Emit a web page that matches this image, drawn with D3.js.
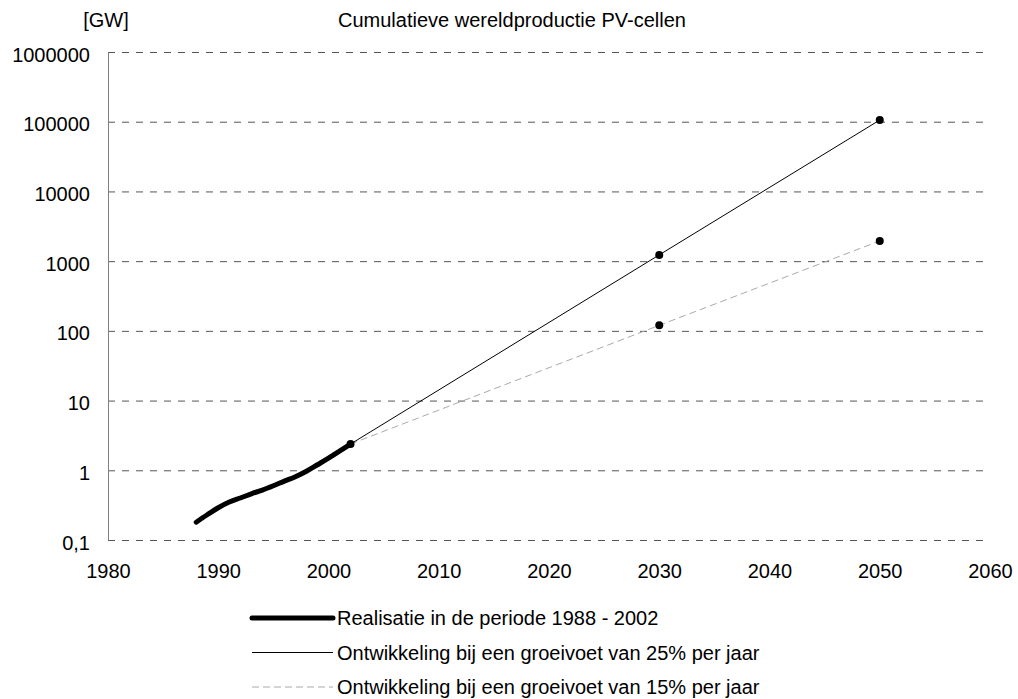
<!DOCTYPE html>
<html>
<head>
<meta charset="utf-8">
<script src="https://cdn.jsdelivr.net/npm/d3@7"></script>
<style>
  body { margin: 0; background: #fff; }
  svg text { font-family: Arial, "Liberation Sans", sans-serif; fill: #000; }
</style>
</head>
<body>
<svg id="chart"></svg>
<script>
// realisatie 1988 - 2002 (GW, cumulatief)
const realYears = [1988, 1989, 1990, 1991, 1992, 1993, 1994, 1995, 1996, 1997, 1998, 1999, 2000, 2001, 2002];
const realValues = [0.18, 0.23, 0.29, 0.35, 0.40, 0.46, 0.52, 0.60, 0.70, 0.81, 0.97, 1.20, 1.49, 1.88, 2.38];

// projecties
const projYears = [2002, 2030, 2050];
const grow25 = [2.38, 1230, 105700];
const grow15 = [2.38, 120, 1950];

const yTicks = [0.1, 1, 10, 100, 1000, 10000, 100000, 1000000];
const xTicks = [1980, 1990, 2000, 2010, 2020, 2030, 2040, 2050, 2060];

const legendLabels = [
  "Realisatie in de periode 1988 - 2002",
  "Ontwikkeling bij een groeivoet van 25% per jaar",
  "Ontwikkeling bij een groeivoet van 15% per jaar"
];

const W = 1018, H = 699;
const margin = {top: 52, right: 28, bottom: 159, left: 108},
    width = W - margin.left - margin.right,
    height = H - margin.top - margin.bottom;

const svg = d3.select("#chart")
    .attr("width", W)
    .attr("height", H);

svg.append("rect").attr("width", W).attr("height", H).attr("fill", "#fff");

const g = svg.append("g")
    .attr("transform", `translate(${margin.left}, ${margin.top})`);

const x = d3.scaleLinear()
    .domain([1980, 2060])
    .range([0, width]);

const y = d3.scaleLog()
    .domain([0.1, 1000000])
    .range([height, 0]);

// gridlijnen
g.append("g")
    .attr("class", "grid")
    .call(d3.axisLeft(y).tickValues(yTicks).tickSize(-width).tickFormat(""))
    .call(s => s.select(".domain").remove())
    .call(s => s.selectAll("line")
        .attr("stroke", "#555")
        .attr("stroke-dasharray", "7,7"));

// y-as
g.append("g")
    .call(d3.axisLeft(y).tickValues(yTicks).tickSize(0).tickPadding(18)
        .tickFormat(d => d < 1 ? String(d).replace(".", ",") : d3.format("d")(d)))
    .call(s => s.select(".domain").attr("stroke", "#808080"))
    .call(s => s.selectAll("text").attr("font-size", 20).attr("dy", "0.45em"));

// x-as
g.append("g")
    .attr("transform", `translate(0, ${height})`)
    .call(d3.axisBottom(x).tickValues(xTicks).tickSize(0).tickPadding(24).tickFormat(d3.format("d")))
    .call(s => s.select(".domain").remove())
    .call(s => s.selectAll("text").attr("font-size", 20));

// titels
svg.append("text")
    .attr("x", 106).attr("y", 27)
    .attr("text-anchor", "middle")
    .attr("font-size", 20)
    .text("[GW]");

svg.append("text")
    .attr("x", 338).attr("y", 27)
    .attr("font-size", 20)
    .text("Cumulatieve wereldproductie PV-cellen");

const realData = realYears.map((yr, i) => ({year: yr, value: realValues[i]}));
const d25 = projYears.map((yr, i) => ({year: yr, value: grow25[i]}));
const d15 = projYears.map((yr, i) => ({year: yr, value: grow15[i]}));

const line = d3.line().x(d => x(d.year)).y(d => y(d.value));

g.append("path")
    .datum(d15)
    .attr("d", line)
    .attr("fill", "none")
    .attr("stroke", "#aaa")
    .attr("stroke-width", 1)
    .attr("stroke-dasharray", "7,4");

g.append("path")
    .datum(d25)
    .attr("d", line)
    .attr("fill", "none")
    .attr("stroke", "#000")
    .attr("stroke-width", 1);

g.append("path")
    .datum(realData)
    .attr("d", line.curve(d3.curveMonotoneX))
    .attr("fill", "none")
    .attr("stroke", "#000")
    .attr("stroke-width", 5)
    .attr("stroke-linecap", "round");

// punten
const dots = [realData[realData.length - 1]].concat(d25.slice(1), d15.slice(1));
g.selectAll("circle.pt")
    .data(dots)
    .enter().append("circle")
    .attr("class", "pt")
    .attr("cx", d => x(d.year))
    .attr("cy", d => y(d.value))
    .attr("r", 4)
    .attr("fill", "#000");

// legenda
const legStyles = [
  {stroke: "#000", width: 5, dash: null},
  {stroke: "#000", width: 1, dash: null},
  {stroke: "#aaa", width: 1, dash: "7,4"}
];
const leg = svg.append("g").attr("transform", "translate(252, 618)");
legendLabels.forEach((lab, i) => {
  const row = leg.append("g").attr("transform", `translate(0, ${i * 34.5})`);
  row.append("line")
      .attr("x1", 0).attr("x2", 81)
      .attr("stroke", legStyles[i].stroke)
      .attr("stroke-width", legStyles[i].width)
      .attr("stroke-linecap", i === 0 ? "round" : "butt")
      .attr("stroke-dasharray", legStyles[i].dash);
  row.append("text")
      .attr("x", 85).attr("y", 7)
      .attr("font-size", 20)
      .text(lab);
});
</script>
</body>
</html>
